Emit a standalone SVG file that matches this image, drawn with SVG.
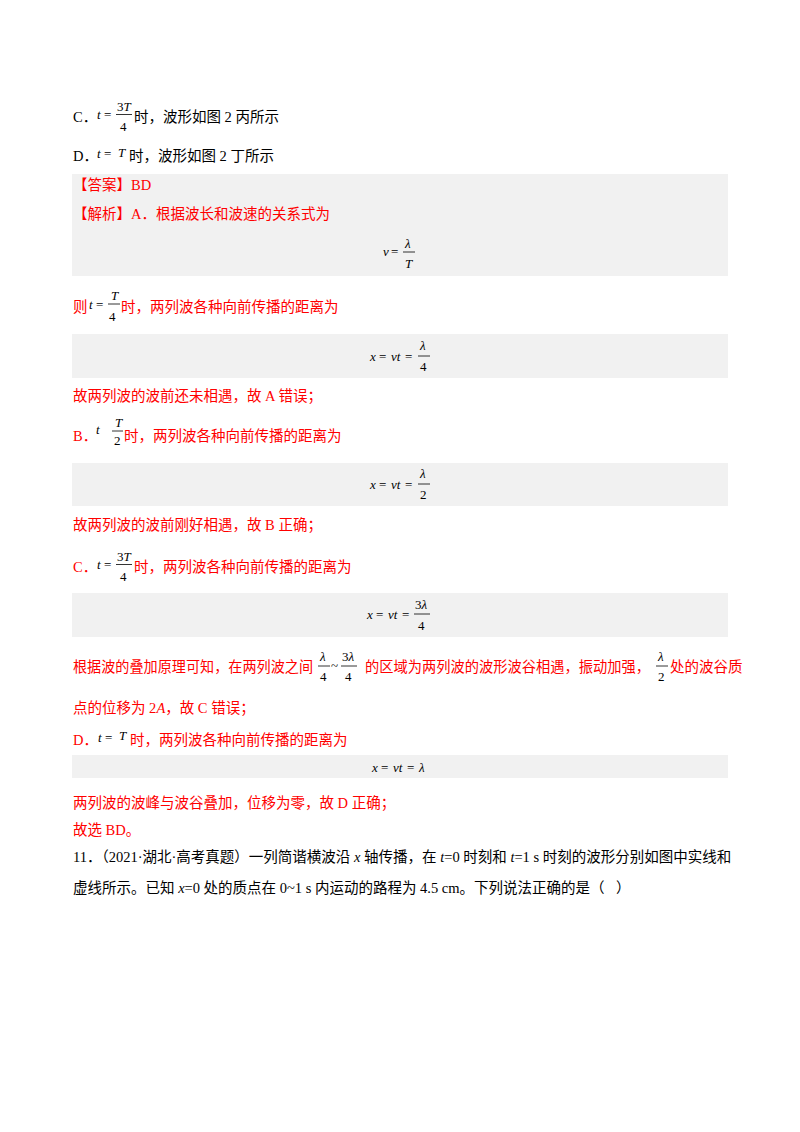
<svg xmlns="http://www.w3.org/2000/svg" width="800" height="1132" viewBox="0 0 800 1132">
<style>
text{font-family:"Liberation Serif","Noto Sans CJK SC",serif;font-size:14.5px;fill:#000}
.r{fill:#f00}
.m{font-style:italic;font-size:13px}
.n{font-size:13px}
.box{fill:#f1f1f1}
.bar{stroke:#000;stroke-width:0.8}
</style>
<rect fill="#fff" width="800" height="1132"/>
<g id="boxes">
<rect class="box" x="72" y="174" width="656" height="102"/>
<rect class="box" x="72" y="334" width="656" height="44"/>
<rect class="box" x="72" y="463" width="656" height="43"/>
<rect class="box" x="72" y="593" width="656" height="44"/>
<rect class="box" x="72" y="755" width="656" height="23"/>
</g>
<g id="optC">
<text x="73" y="122">C．</text>
<text class="m" x="97" y="119">t</text><text class="n" x="104" y="119">=</text>
<text class="n" x="117" y="111">3<tspan font-style="italic">T</tspan></text>
<line class="bar" x1="116" y1="114.5" x2="132" y2="114.5"/>
<text class="n" x="120" y="131">4</text>
<text x="134" y="122">时，波形如图 2 丙所示</text>
</g>
<g id="optD">
<text x="73" y="161">D．</text>
<text class="m" x="97" y="158">t</text><text class="n" x="104" y="158">=</text><text class="m" x="118" y="157">T</text>
<text x="129" y="161">时，波形如图 2 丁所示</text>
</g>
<g id="answer">
<text class="r" x="73" y="190">【答案】BD</text>
<text class="r" x="73" y="219">【解析】A．根据波长和波速的关系式为</text>
<text class="m" x="383" y="256">v</text><text class="n" x="391" y="256">=</text>
<text class="m" x="405" y="248">λ</text>
<line class="bar" x1="403" y1="252" x2="415" y2="252"/>
<text class="m" x="405" y="268">T</text>
</g>
<g id="lineA">
<text class="r" x="73" y="312">则</text>
<text class="m" x="89" y="309">t</text><text class="n" x="96" y="309">=</text>
<text class="m" x="111" y="300">T</text>
<line class="bar" x1="108" y1="304" x2="120" y2="304"/>
<text class="n" x="109" y="321">4</text>
<text class="r" x="121" y="312">时，两列波各种向前传播的距离为</text>
<text class="m" x="370" y="361">x</text><text class="n" x="379" y="361">=</text><text class="m" x="391" y="361">vt</text><text class="n" x="405" y="361">=</text>
<text class="m" x="420" y="350">λ</text>
<line class="bar" x1="418" y1="356" x2="430" y2="356"/>
<text class="n" x="420" y="371">4</text>
<text class="r" x="73" y="401">故两列波的波前还未相遇，故 A 错误；</text>
</g>
<g id="lineB">
<text class="r" x="73" y="441">B．</text>
<text class="m" x="96" y="434">t</text>
<text class="m" x="115" y="427">T</text>
<line class="bar" x1="112" y1="431" x2="123" y2="431"/>
<text class="n" x="114" y="445">2</text>
<text class="r" x="124" y="441">时，两列波各种向前传播的距离为</text>
<text class="m" x="370" y="489">x</text><text class="n" x="379" y="489">=</text><text class="m" x="391" y="489">vt</text><text class="n" x="405" y="489">=</text>
<text class="m" x="420" y="478">λ</text>
<line class="bar" x1="418" y1="484" x2="430" y2="484"/>
<text class="n" x="420" y="499">2</text>
<text class="r" x="73" y="530">故两列波的波前刚好相遇，故 B 正确；</text>
</g>
<g id="lineC">
<text class="r" x="73" y="572">C．</text>
<text class="m" x="97" y="569">t</text><text class="n" x="104" y="569">=</text>
<text class="n" x="117" y="561">3<tspan font-style="italic">T</tspan></text>
<line class="bar" x1="116" y1="564.5" x2="132" y2="564.5"/>
<text class="n" x="120" y="581">4</text>
<text class="r" x="134" y="572">时，两列波各种向前传播的距离为</text>
<text class="m" x="367" y="619">x</text><text class="n" x="376" y="619">=</text><text class="m" x="388" y="619">vt</text><text class="n" x="402" y="619">=</text>
<text class="n" x="415" y="609">3<tspan font-style="italic">λ</tspan></text>
<line class="bar" x1="414" y1="614" x2="430" y2="614"/>
<text class="n" x="418" y="630">4</text>
<text class="r" x="73" y="672" textLength="240" lengthAdjust="spacingAndGlyphs">根据波的叠加原理可知，在两列波之间</text>
<text class="m" x="320" y="661">λ</text>
<line class="bar" x1="318" y1="666" x2="330" y2="666"/>
<text class="n" x="320" y="681">4</text>
<text class="n" x="331" y="670">~</text>
<text class="n" x="342" y="661">3<tspan font-style="italic">λ</tspan></text>
<line class="bar" x1="341" y1="666" x2="357" y2="666"/>
<text class="n" x="345" y="681">4</text>
<text class="r" x="365" y="672" textLength="285" lengthAdjust="spacingAndGlyphs">的区域为两列波的波形波谷相遇，振动加强，</text>
<text class="m" x="658" y="661">λ</text>
<line class="bar" x1="656" y1="666" x2="668" y2="666"/>
<text class="n" x="658" y="681">2</text>
<text class="r" x="670" y="672">处的波谷质</text>
<text class="r" x="73" y="713">点的位移为 2<tspan font-style="italic">A</tspan>，故 C 错误；</text>
</g>
<g id="lineD">
<text class="r" x="73" y="745">D．</text>
<text class="m" x="98" y="742">t</text><text class="n" x="105" y="742">=</text><text class="m" x="119" y="740">T</text>
<text class="r" x="130" y="745">时，两列波各种向前传播的距离为</text>
<text class="m" x="372" y="772">x</text><text class="n" x="381" y="772">=</text><text class="m" x="393" y="772">vt</text><text class="n" x="407" y="772">=</text><text class="m" x="419" y="772">λ</text>
<text class="r" x="73" y="808">两列波的波峰与波谷叠加，位移为零，故 D 正确；</text>
<text class="r" x="73" y="835">故选 BD。</text>
</g>
<g id="q11">
<text x="73" y="862">11．（2021·湖北·高考真题）一列简谐横波沿  <tspan font-style="italic">x</tspan> 轴传播，在 <tspan font-style="italic">t</tspan>=0 时刻和 <tspan font-style="italic">t</tspan>=1 s 时刻的波形分别如图中实线和</text>
<text x="73" y="893">虚线所示。已知 <tspan font-style="italic">x</tspan>=0 处的质点在 0~1 s 内运动的路程为 4.5 cm。下列说法正确的是（</text>
<text x="616" y="893">）</text>
</g>
</svg>
